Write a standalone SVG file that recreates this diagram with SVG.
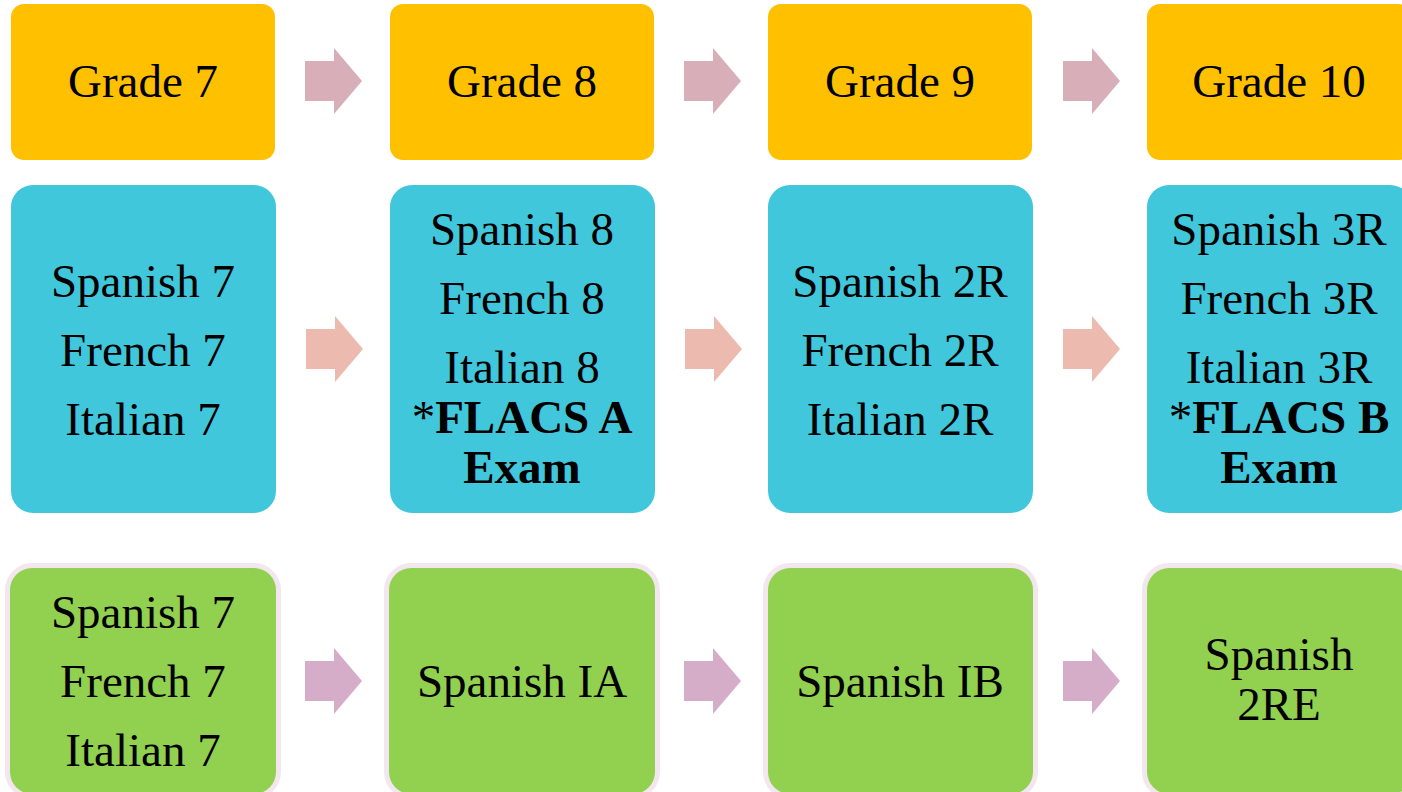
<svg xmlns="http://www.w3.org/2000/svg" width="1402" height="792" viewBox="0 0 1402 792">
<style>
.t{font-family:"Liberation Serif","Times New Roman",serif;font-size:47px;fill:#000;text-anchor:middle}
.b{font-weight:bold}
.y{fill:#ffc000}
.c{fill:#41c7db}
.g{fill:#92d050}
.gb{fill:#f3e6ee}
.a1{fill:#d8aeb8}
.a2{fill:#ecbaaf}
.a3{fill:#d5adc9}
</style>
<defs>
<path id="arr" d="M0,-20 H29 V-33 L57,0 L29,33 V20 H0 Z"/>
</defs>
<rect width="1402" height="792" fill="#fff"/>
<g id="grade7"><rect class="y" x="11" y="4" width="264" height="156" rx="13"/><text class="t" x="143" y="97">Grade 7</text></g>
<g id="grade8"><rect class="y" x="390" y="4" width="264" height="156" rx="13"/><text class="t" x="522" y="97">Grade 8</text></g>
<g id="grade9"><rect class="y" x="768" y="4" width="264" height="156" rx="13"/><text class="t" x="900" y="97">Grade 9</text></g>
<g id="grade10"><rect class="y" x="1147" y="4" width="264" height="156" rx="13"/><text class="t" x="1279" y="97">Grade 10</text></g>

<g id="r2c1"><rect class="c" x="11" y="185" width="265" height="328" rx="22"/>
<text class="t" x="143" y="297">Spanish 7</text><text class="t" x="143" y="366">French 7</text><text class="t" x="143" y="435">Italian 7</text></g>
<g id="r2c2"><rect class="c" x="390" y="185" width="265" height="328" rx="22"/>
<text class="t" x="522" y="245">Spanish 8</text><text class="t" x="522" y="314">French 8</text><text class="t" x="522" y="383">Italian 8</text>
<text class="t" x="522" y="433">*<tspan class="b">FLACS A</tspan></text><text class="t b" x="522" y="483">Exam</text></g>
<g id="r2c3"><rect class="c" x="768" y="185" width="265" height="328" rx="22"/>
<text class="t" x="900" y="297">Spanish 2R</text><text class="t" x="900" y="366">French 2R</text><text class="t" x="900" y="435">Italian 2R</text></g>
<g id="r2c4"><rect class="c" x="1147" y="185" width="265" height="328" rx="22"/>
<text class="t" x="1279" y="245">Spanish 3R</text><text class="t" x="1279" y="314">French 3R</text><text class="t" x="1279" y="383">Italian 3R</text>
<text class="t" x="1279" y="433">*<tspan class="b">FLACS B</tspan></text><text class="t b" x="1279" y="483">Exam</text></g>

<g id="r3c1"><rect class="gb" x="5" y="563" width="276" height="236" rx="27"/><rect class="g" x="10" y="568" width="266" height="226" rx="22"/>
<text class="t" x="143" y="628">Spanish 7</text><text class="t" x="143" y="697">French 7</text><text class="t" x="143" y="766">Italian 7</text></g>
<g id="r3c2"><rect class="gb" x="384" y="563" width="276" height="236" rx="27"/><rect class="g" x="389" y="568" width="266" height="226" rx="22"/>
<text class="t" x="522" y="697">Spanish IA</text></g>
<g id="r3c3"><rect class="gb" x="763" y="563" width="275" height="236" rx="27"/><rect class="g" x="768" y="568" width="265" height="226" rx="22"/>
<text class="t" x="900" y="697">Spanish IB</text></g>
<g id="r3c4"><rect class="gb" x="1142" y="563" width="276" height="236" rx="27"/><rect class="g" x="1147" y="568" width="266" height="226" rx="22"/>
<text class="t" x="1279" y="670">Spanish</text><text class="t" x="1279" y="720">2RE</text></g>

<g id="connectors">
<use href="#arr" class="a1" x="305" y="81"/>
<use href="#arr" class="a1" x="684" y="81"/>
<use href="#arr" class="a1" x="1063" y="81"/>
<use href="#arr" class="a2" x="306" y="349"/>
<use href="#arr" class="a2" x="685" y="349"/>
<use href="#arr" class="a2" x="1063" y="349"/>
<use href="#arr" class="a3" x="305" y="681"/>
<use href="#arr" class="a3" x="684" y="681"/>
<use href="#arr" class="a3" x="1063" y="681"/>
</g>
</svg>
